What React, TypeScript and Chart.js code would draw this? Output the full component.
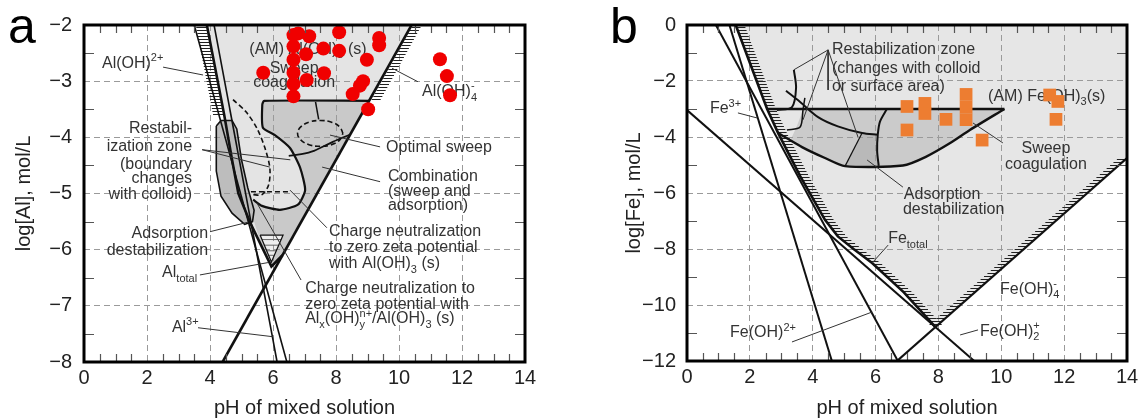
import React, { useEffect, useRef } from "react";
import { Chart, registerables } from "chart.js";
Chart.register(...registerables);

const FONT = '"Liberation Sans", Arial, Helvetica, sans-serif';
type P = [number, number];

// ================= Panel a (aluminium) =================
const aXTicks = [0, 2, 4, 6, 8, 10, 12, 14];
const aYTicks = [-8, -7, -6, -5, -4, -3, -2];
const aDosePH = [6.65, 6.65, 6.65, 6.65, 6.65, 6.65, 6.8, 7.15, 7.05, 7.07, 7.6, 7.62, 8.1, 8.1, 8.98, 9.37, 9.37, 8.86, 8.76, 8.53, 9.02, 5.69, 11.3, 11.52, 11.62];
const aDoseLog = [-2.18, -2.38, -2.62, -2.85, -3.05, -3.27, -2.15, -2.2, -2.52, -2.98, -2.42, -2.86, -2.13, -2.46, -2.62, -2.23, -2.36, -3.0, -3.08, -3.23, -3.5, -2.85, -2.61, -2.91, -3.25];

const aAlOH2: P[] = [[3.5, -2], [6.44, -8]];
const aAl3: P[] = [[4.13, -2], [6.13, -8]];
const aAlOH4: P[] = [[4.4, -8], [10.4, -2]];
const aAlTotal: P[] = [[3.9, -2], [4.45, -3.6], [4.7, -4.4], [4.9, -5.0], [5.3, -5.55], [5.95, -6.3], [6.3, -6.1]];
const aVRegion: P[] = [[3.9, -2], [10.4, -2], [6.3, -6.1], [5.95, -6.3], [5.3, -5.55], [4.9, -5.0], [4.7, -4.4], [4.45, -3.6]];
const aRestab: P[] = [[4.2, -3.8], [4.35, -3.7], [4.7, -3.7], [4.85, -3.85], [5.0, -4.4], [5.2, -4.9], [5.4, -5.3], [5.35, -5.5], [5.1, -5.55], [4.7, -5.35], [4.35, -5.05], [4.2, -4.6]];
const aCombEdge: P[] = [[9.07, -3.35], [5.72, -3.35], [5.66, -3.42], [5.68, -3.83], [6.06, -3.96], [6.54, -4.19], [6.86, -4.54], [7.02, -4.94], [6.79, -5.2], [6.22, -5.29], [5.65, -5.22], [5.37, -5.11]];
const aComb: P[] = [[5.72, -3.35], [9.07, -3.35], [6.3, -6.1], [5.95, -6.3], [5.6, -5.85], [5.37, -5.45], [5.37, -5.11], [5.65, -5.22], [6.22, -5.29], [6.79, -5.2], [7.02, -4.94], [6.86, -4.54], [6.54, -4.19], [6.06, -3.96], [5.68, -3.83], [5.66, -3.42]];
const aSweepEdge: P[] = [[6.5, -4.33], [6.9, -4.3], [7.3, -4.24], [7.9, -4.08], [8.45, -3.95]];
const aOptimal: P[] = [[8.22, -3.93], [8.12, -3.815], [7.86, -3.73], [7.5, -3.7], [7.14, -3.73], [6.88, -3.815], [6.78, -3.93], [6.88, -4.045], [7.14, -4.13], [7.5, -4.16], [7.86, -4.13], [8.12, -4.045], [8.22, -3.93]];
const aRestabDash: P[] = [[4.73, -3.33], [5.15, -3.55], [5.5, -3.85], [5.75, -4.2], [5.9, -4.55], [5.86, -4.85], [5.65, -5.02], [5.35, -5.02]];
const aRestabDash2: P[] = [[5.3, -4.97], [6.5, -4.97]];
const aSweepTick: P[] = [[7.35, -3.37], [7.45, -3.68]];
const aChargeTri: P[] = [[5.59, -5.74], [6.32, -5.74], [5.95, -6.22]];
const aTriHatch: P[][] = [
  [[5.65, -5.82], [6.26, -5.82]],
  [[5.71, -5.92], [6.18, -5.92]],
  [[5.78, -6.02], [6.1, -6.02]],
  [[5.85, -6.1], [6.02, -6.1]],
];
const aPointers: P[][] = [
  [[2.51, -2.75], [3.78, -2.89]],
  [[10.6, -3.01], [9.78, -2.77]],
  [[3.75, -4.22], [5.9, -4.53]],
  [[3.75, -4.22], [6.55, -4.4]],
  [[9.4, -4.17], [7.81, -3.96]],
  [[9.4, -4.79], [7.56, -4.53]],
  [[4.0, -5.68], [5.21, -5.51]],
  [[7.71, -5.61], [6.54, -4.94]],
  [[6.89, -6.54], [5.49, -5.17]],
  [[3.68, -6.45], [5.84, -6.23]],
  [[3.62, -7.39], [6.0, -7.55]],
];
type Lbl = { s: string; x: number; y: number; a?: CanvasTextAlign };
const aLabels: Lbl[] = [
  { s: "(AM) Al(OH)_{3} (s)", x: 7.11, y: -2.41, a: "center" },
  { s: "Sweep", x: 6.67, y: -2.75, a: "center" },
  { s: "coagulation", x: 6.67, y: -3.01, a: "center" },
  { s: "Al(OH)^{2+}", x: 0.57, y: -2.66 },
  { s: "Al(OH)_{4}^{-}", x: 10.73, y: -3.16 },
  { s: "Restabil-", x: 3.43, y: -3.83, a: "right" },
  { s: "ization zone", x: 3.43, y: -4.14, a: "right" },
  { s: "(boundary", x: 3.43, y: -4.46, a: "right" },
  { s: "changes", x: 3.43, y: -4.72, a: "right" },
  { s: "with colloid)", x: 3.43, y: -4.99, a: "right" },
  { s: "Optimal sweep", x: 9.59, y: -4.17 },
  { s: "Combination", x: 9.65, y: -4.67 },
  { s: "(sweep and", x: 9.65, y: -4.95 },
  { s: "adsorption)", x: 9.65, y: -5.2 },
  { s: "Adsorption", x: 3.94, y: -5.7, a: "right" },
  { s: "destabilization", x: 3.94, y: -5.99, a: "right" },
  { s: "Charge neutralization", x: 7.78, y: -5.65 },
  { s: "to zero zeta potential", x: 7.78, y: -5.95 },
  { s: "with Al(OH)_{3} (s)", x: 7.78, y: -6.23 },
  { s: "Charge neutralization to", x: 7.02, y: -6.68 },
  { s: "zero zeta potential with", x: 7.02, y: -6.96 },
  { s: "Al_{x}(OH)_{y}^{n+}/Al(OH)_{3} (s)", x: 7.02, y: -7.21 },
  { s: "Al_{total}", x: 2.48, y: -6.39 },
  { s: "Al^{3+}", x: 2.79, y: -7.37 },
];

// ================= Panel b (iron) =================
const bXTicks = [0, 2, 4, 6, 8, 10, 12, 14];
const bYTicks = [-12, -10, -8, -6, -4, -2, 0];
const bDosePH = [7.0, 7.0, 7.57, 7.57, 8.24, 8.88, 8.88, 8.88, 9.39, 11.54, 11.8, 11.74];
const bDoseLog = [-2.91, -3.75, -2.8, -3.16, -3.37, -2.48, -2.93, -3.38, -4.11, -2.5, -2.73, -3.37];

const bFeOH2: P[] = [[0.92, 0], [6.71, -12]];
const bFe3: P[] = [[1.35, 0], [4.61, -12]];
const bFeOH2p: P[] = [[0, -3.04], [9.14, -12]];
const bFeOH4: P[] = [[6.68, -12], [14, -4.75]];
const bFeTotal: P[] = [[1.55, 0], [2.05, -1.5], [2.55, -3.0], [2.9, -3.86], [3.6, -5.4], [4.39, -6.96], [4.8, -7.55], [5.3, -8.0], [5.89, -8.5], [6.9, -9.55], [7.9, -10.78]];
const bRightBranch: P[] = [[7.9, -10.78], [14, -4.75]];
const bVRegion: P[] = [[1.55, 0], [14, 0], [14, -4.75], [7.9, -10.78], [6.9, -9.55], [5.89, -8.5], [5.3, -8.0], [4.8, -7.55], [4.39, -6.96], [3.6, -5.4], [2.9, -3.86], [2.55, -3.0], [2.05, -1.5]];
const bTopLine: P[] = [[2.55, -3.0], [10.1, -3.0]];
const bLower: P[] = [[2.9, -3.86], [3.66, -4.36], [4.39, -4.75], [5.03, -5.04], [6.87, -5.02], [7.6, -4.71], [8.4, -4.2], [9.0, -3.75], [10.1, -3.0]];
const bLens: P[] = [[3.7, -3.0], [10.1, -3.0], [9.0, -3.75], [8.4, -4.2], [7.6, -4.71], [6.87, -5.02], [5.03, -5.04], [4.39, -4.75], [3.66, -4.36], [3.3, -4.1], [3.5, -3.6]];
const bWedge: P[] = [[5.57, -3.86], [6.07, -3.92], [6.08, -5.03], [5.03, -5.04]];
const bRestabUpper: P[] = [[3.15, -2.35], [3.6, -2.75], [4.17, -3.29], [4.8, -3.62], [5.57, -3.86], [6.07, -3.92]];
const bSweepEdge: P[] = [[6.36, -3.0], [6.14, -3.45], [6.07, -3.92], [6.05, -4.5], [6.1, -5.03]];
const bWedgeEdge: P[] = [[5.57, -3.86], [5.03, -5.04]];
const bHook1: P[] = [[3.4, -1.6], [3.47, -2.25], [3.34, -2.93], [2.86, -3.04]];
const bHook2: P[] = [[3.75, -2.6], [3.69, -3.04], [3.6, -3.64], [3.18, -3.75]];
const bPointers: P[][] = [
  [[4.49, -0.89], [3.4, -1.6]],
  [[4.49, -0.89], [3.69, -3.39]],
  [[4.49, -0.89], [5.44, -4.0]],
  [[4.49, -0.89], [4.49, -2.32]],
  [[1.62, -3.14], [2.23, -3.32]],
  [[3.34, -11.32], [5.89, -10.25]],
  [[6.4, -7.86], [5.89, -8.5]],
  [[9.26, -10.89], [8.69, -11.07]],
  [[10.05, -4.21], [9.1, -3.5]],
  [[6.87, -5.79], [5.73, -4.82]],
];
const bLabels: Lbl[] = [
  { s: "Restabilization zone", x: 4.61, y: -0.82 },
  { s: "(changes with colloid", x: 4.61, y: -1.5 },
  { s: "or surface area)", x: 4.61, y: -2.14 },
  { s: "(AM) Fe(OH)_{3}(s)", x: 9.58, y: -2.5 },
  { s: "Sweep", x: 11.42, y: -4.36, a: "center" },
  { s: "coagulation", x: 11.42, y: -4.93, a: "center" },
  { s: "Adsorption", x: 6.9, y: -6.0 },
  { s: "destabilization", x: 6.87, y: -6.54 },
  { s: "Fe_{total}", x: 6.4, y: -7.6 },
  { s: "Fe(OH)_{4}^{-}", x: 9.96, y: -9.39 },
  { s: "Fe(OH)_{2}^{+}", x: 9.32, y: -10.89 },
  { s: "Fe(OH)^{2+}", x: 1.37, y: -10.96 },
  { s: "Fe^{3+}", x: 0.73, y: -2.96 },
];

// ================= helpers =================
const toXY = (pts: P[]) => pts.map(([x, y]) => ({ x, y }));
function lineDs(pts: P[], width = 2, color = "#111", extra: any = {}) {
  return { data: toXY(pts), showLine: true, borderColor: color, borderWidth: width, pointRadius: 0, pointHoverRadius: 0, fill: false, tension: 0, ...extra };
}
function polyDs(pts: P[], color: string) {
  return { data: toXY(pts), showLine: true, borderWidth: 0, backgroundColor: color, pointRadius: 0, pointHoverRadius: 0, fill: "shape", tension: 0 };
}

function drawRich(ctx: CanvasRenderingContext2D, s: string, x: number, y: number, align: CanvasTextAlign, size: number, color: string) {
  const parts = s.split(/(_\{[^}]*\}|\^\{[^}]*\})/).filter(Boolean);
  const small = Math.round(size * 0.7);
  const items: { t: string; mode: number; fs: number; sx: number }[] = [];
  let cx = 0;
  let subStart = -1;
  for (const p of parts) {
    let mode = 0;
    let t = p;
    if (p.startsWith("_{")) { mode = 1; t = p.slice(2, -1); }
    else if (p.startsWith("^{")) { mode = 2; t = p.slice(2, -1); }
    const fs = mode ? small : size;
    ctx.font = `${fs}px ${FONT}`;
    const w = ctx.measureText(t).width;
    let sx = cx;
    if (mode === 2 && subStart >= 0) { sx = subStart; cx = Math.max(cx, sx + w); }
    else cx = sx + w;
    items.push({ t, mode, fs, sx });
    subStart = mode === 1 ? sx : -1;
  }
  const x0 = align === "right" ? x - cx : align === "center" ? x - cx / 2 : x;
  const base = y + size * 0.35;
  ctx.fillStyle = color;
  ctx.textAlign = "left";
  ctx.textBaseline = "alphabetic";
  for (const it of items) {
    ctx.font = `${it.fs}px ${FONT}`;
    const dy = it.mode === 1 ? size * 0.3 : it.mode === 2 ? -size * 0.42 : 0;
    ctx.fillText(it.t, x0 + it.sx, base + dy);
  }
}

type Hatch = { pts: P[]; side: "left" | "right"; len: number; gap: number };
type Panel = {
  letter: string; letterX: number;
  xTicks: number[]; yTicks: number[];
  yTitle: string; yTitlePad: number; yAxisW: number; rightPad: number; xAxisH: number; yTickPad: number;
  yMinorStep: number; yMajor: number;
  datasets: any[]; hatches: Hatch[]; labels: Lbl[];
};

const fmt = (v: number) => (v < 0 ? "\u2212" + Math.abs(v) : String(v));

function buildChart(canvas: HTMLCanvasElement, p: Panel) {
  const xMin = p.xTicks[0], xMax = p.xTicks[p.xTicks.length - 1];
  const yMin = p.yTicks[0], yMax = p.yTicks[p.yTicks.length - 1];
  const decor = {
    id: "decor" + p.letter,
    beforeDatasetsDraw(chart: any) {
      const ctx = chart.ctx as CanvasRenderingContext2D;
      const xs = chart.scales.x, ys = chart.scales.y;
      const ar = chart.chartArea;
      ctx.save();
      ctx.beginPath();
      ctx.rect(ar.left, ar.top, ar.right - ar.left, ar.bottom - ar.top);
      ctx.clip();
      // hatching along solubility boundaries
      ctx.strokeStyle = "#222";
      ctx.lineWidth = 1;
      for (const h of p.hatches) {
        const px = h.pts.map(([x, y]) => [xs.getPixelForValue(x), ys.getPixelForValue(y)]);
        ctx.beginPath();
        const dir = h.side === "left" ? -1 : 1;
        for (let i = 0; i < px.length - 1; i++) {
          const [x1, y1] = px[i];
          const [x2, y2] = px[i + 1];
          const ya = Math.min(y1, y2), yb = Math.max(y1, y2);
          for (let yy = Math.ceil(ya / h.gap) * h.gap; yy < yb; yy += h.gap) {
            const t = (yy - y1) / (y2 - y1);
            const xx = x1 + t * (x2 - x1);
            ctx.moveTo(xx + dir, yy + 0.5);
            ctx.lineTo(xx + dir * h.len, yy + 0.5);
          }
        }
        ctx.stroke();
      }
      ctx.restore();
      ctx.save();
      for (const l of p.labels) {
        drawRich(ctx, l.s, xs.getPixelForValue(l.x), ys.getPixelForValue(l.y), l.a || "left", 16, "#333");
      }
      ctx.restore();
    },
    afterDatasetsDraw(chart: any) {
      const ctx = chart.ctx as CanvasRenderingContext2D;
      const xs = chart.scales.x, ys = chart.scales.y;
      const ar = chart.chartArea;
      ctx.save();
      ctx.strokeStyle = "#555";
      ctx.lineWidth = 1.2;
      ctx.beginPath();
      for (let v = xMin + 0.5; v < xMax; v += 0.5) {
        if (Math.abs(v / 2 - Math.round(v / 2)) < 1e-6) continue;
        const x = Math.round(xs.getPixelForValue(v)) + 0.5;
        ctx.moveTo(x, ar.top); ctx.lineTo(x, ar.top + 8);
        ctx.moveTo(x, ar.bottom); ctx.lineTo(x, ar.bottom - 8);
      }
      for (let v = yMin + p.yMinorStep; v < yMax; v += p.yMinorStep) {
        if (Math.abs(v / p.yMajor - Math.round(v / p.yMajor)) < 1e-6) continue;
        const y = Math.round(ys.getPixelForValue(v)) + 0.5;
        ctx.moveTo(ar.left, y); ctx.lineTo(ar.left + 10, y);
        ctx.moveTo(ar.right, y); ctx.lineTo(ar.right - 10, y);
      }
      ctx.stroke();
      ctx.strokeStyle = "#000";
      ctx.lineWidth = 3;
      ctx.strokeRect(ar.left, ar.top, ar.right - ar.left, ar.bottom - ar.top);
      ctx.restore();
    },
    afterDraw(chart: any) {
      const ctx = chart.ctx as CanvasRenderingContext2D;
      ctx.save();
      ctx.fillStyle = "#000";
      ctx.font = `50px ${FONT}`;
      ctx.textAlign = "left";
      ctx.textBaseline = "alphabetic";
      ctx.fillText(p.letter, p.letterX, 43);
      ctx.restore();
    },
  };

  return new Chart(canvas, {
    type: "scatter",
    data: { datasets: p.datasets },
    options: {
      animation: false,
      responsive: false,
      devicePixelRatio: 1,
      events: [],
      layout: { padding: { left: 0, top: 25, right: p.rightPad, bottom: 0 } },
      plugins: {
        legend: { display: false },
        tooltip: { enabled: false },
        filler: { drawTime: "beforeDraw" },
      },
      scales: {
        x: {
          type: "linear",
          min: xMin,
          max: xMax,
          afterBuildTicks: (ax: any) => { ax.ticks = p.xTicks.map((v) => ({ value: v })); },
          afterFit: (ax: any) => { ax.height = p.xAxisH; },
          ticks: { font: { family: FONT, size: 20 }, color: "#222", padding: 4, maxRotation: 0, autoSkip: false, callback: (v: any) => fmt(Number(v)) },
          grid: { color: "#9a9a9a", lineWidth: 1, drawTicks: false },
          border: { display: false, dash: [6, 4] },
          title: { display: true, text: "pH of mixed solution", font: { family: FONT, size: 20 }, color: "#222", padding: { top: 0, bottom: -2 } },
        },
        y: {
          type: "linear",
          min: yMin,
          max: yMax,
          afterBuildTicks: (ax: any) => { ax.ticks = p.yTicks.map((v) => ({ value: v })); },
          afterFit: (ax: any) => { ax.width = p.yAxisW; },
          ticks: { font: { family: FONT, size: 20 }, color: "#222", padding: p.yTickPad, autoSkip: false, callback: (v: any) => fmt(Number(v)) },
          grid: { color: "#9a9a9a", lineWidth: 1, drawTicks: false },
          border: { display: false, dash: [6, 4] },
          title: { display: true, text: p.yTitle, font: { family: FONT, size: 20 }, color: "#222", padding: { top: p.yTitlePad, bottom: 0 } },
        },
      },
    } as any,
    plugins: [decor],
  });
}

const panelA: Panel = {
  letter: "a", letterX: 8,
  xTicks: aXTicks, yTicks: aYTicks,
  yTitle: "log[Al], mol/L", yTitlePad: 12, yAxisW: 84, rightPad: 35, xAxisH: 56, yTickPad: 12,
  yMinorStep: 0.5, yMajor: 1,
  hatches: [
    { pts: [[3.9, -2], [4.45, -3.6]], side: "left", len: 11, gap: 3 },
    { pts: [[10.4, -2], [9.07, -3.35]], side: "right", len: 10, gap: 3 },
  ],
  labels: aLabels,
  datasets: [
    { data: aDosePH.map((x, i) => ({ x, y: aDoseLog[i] })), showLine: false, pointRadius: 7, pointHoverRadius: 7, backgroundColor: "#f00000", borderWidth: 0 },
    ...aPointers.map((l) => lineDs(l, 1, "#333")),
    lineDs(aAlTotal, 2.6),
    lineDs(aAlOH4, 2.6),
    lineDs(aAl3, 1.6),
    lineDs(aAlOH2, 1.6),
    lineDs(aCombEdge, 2.2, "#111", { tension: 0.2 }),
    lineDs(aSweepEdge, 1.8, "#111", { tension: 0.3 }),
    lineDs([...aRestab, aRestab[0]], 1.6),
    lineDs(aOptimal, 1.6, "#111", { borderDash: [5, 3], tension: 0.4 }),
    lineDs(aRestabDash, 1.6, "#111", { borderDash: [5, 3], tension: 0.3 }),
    lineDs(aRestabDash2, 1.6, "#111", { borderDash: [5, 3] }),
    lineDs(aSweepTick, 1.5),
    lineDs([...aChargeTri, aChargeTri[0]], 1.2),
    ...aTriHatch.map((l) => lineDs(l, 1, "#666")),
    polyDs(aChargeTri, "#eeeeee"),
    polyDs(aRestab, "#bdbdbd"),
    polyDs(aComb, "#c9c9c9"),
    polyDs(aVRegion, "#e4e4e4"),
  ],
};

const panelB: Panel = {
  letter: "b", letterX: 50,
  xTicks: bXTicks, yTicks: bYTicks,
  yTitle: "log[Fe], mol/L", yTitlePad: 62, yAxisW: 127, rightPad: 16, xAxisH: 57, yTickPad: 11,
  yMinorStep: 1, yMajor: 2,
  hatches: [
    { pts: bFeTotal, side: "right", len: 9, gap: 3 },
    { pts: bRightBranch, side: "left", len: 9, gap: 3 },
  ],
  labels: bLabels,
  datasets: [
    { data: bDosePH.map((x, i) => ({ x, y: bDoseLog[i] })), showLine: false, pointStyle: "rect", pointRadius: 9, pointHoverRadius: 9, backgroundColor: "#ed7d31", borderWidth: 0 },
    ...bPointers.map((l) => lineDs(l, 1, "#333")),
    lineDs(bFeTotal, 2.6),
    lineDs(bFeOH4, 2.2),
    lineDs(bFe3, 2.0),
    lineDs(bFeOH2, 2.0),
    lineDs(bFeOH2p, 2.0),
    lineDs(bTopLine, 2.4),
    lineDs(bLower, 2.4, "#111", { tension: 0.25 }),
    lineDs(bRestabUpper, 2.0, "#111", { tension: 0.3 }),
    lineDs(bSweepEdge, 2.0, "#111", { tension: 0.3 }),
    lineDs(bWedgeEdge, 1.2),
    lineDs(bHook1, 2.0, "#111", { tension: 0.3 }),
    lineDs(bHook2, 1.5, "#111", { tension: 0.3 }),
    polyDs(bWedge, "#b9b9b9"),
    polyDs(bLens, "#cbcbcb"),
    polyDs(bVRegion, "#e6e6e6"),
  ],
};

export default function App() {
  const aRef = useRef<HTMLCanvasElement>(null);
  const bRef = useRef<HTMLCanvasElement>(null);
  useEffect(() => {
    const ca = buildChart(aRef.current!, panelA);
    const cb = buildChart(bRef.current!, panelB);
    return () => { ca.destroy(); cb.destroy(); };
  }, []);
  return (
    <div style={{ position: "absolute", left: 0, top: 0, width: 1143, height: 418, background: "#fff", overflow: "hidden" }}>
      <canvas ref={aRef} width={560} height={418} style={{ position: "absolute", left: 0, top: 0 }} />
      <canvas ref={bRef} width={583} height={418} style={{ position: "absolute", left: 560, top: 0 }} />
    </div>
  );
}
